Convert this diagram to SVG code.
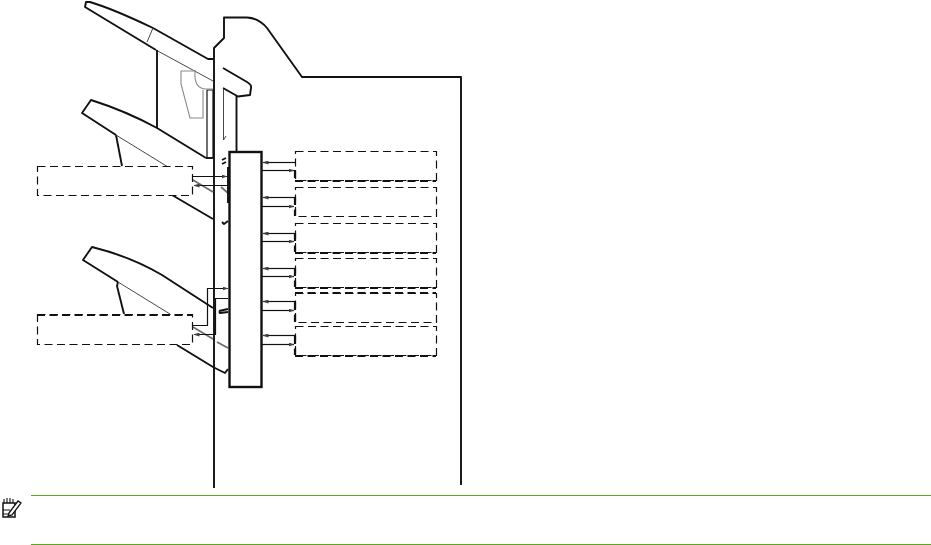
<svg xmlns="http://www.w3.org/2000/svg" width="931" height="545" viewBox="0 0 931 545">
<style>
.l{fill:none;stroke:#111;stroke-width:1.9;stroke-linejoin:round}
.t{fill:none;stroke:#333;stroke-width:.9}
.g{fill:none;stroke:#8a8a8a;stroke-width:1.1}
.gg{fill:none;stroke:#6d6e71;stroke-width:1.8}
.c{fill:none;stroke:#111;stroke-width:1.2}
.d{fill:#fff;stroke:#111;stroke-width:1.2;stroke-dasharray:8 4.500}
.dk{fill:none;stroke:#111;stroke-width:2.200;stroke-dasharray:8 4.500}
.rule{stroke:#5aa81e;stroke-width:1.200}
</style>
<defs>
<marker id="a" markerWidth="6" markerHeight="4" refX="5.5" refY="2" orient="auto" markerUnits="userSpaceOnUse"><path d="M0 0L6 2L0 4Z" fill="#414042"/></marker>
</defs>
<g id="finisher-outline">
<path class="l" d="M214 488V48L224 38V17.500H247C256 18 262 22 267 28L302 77H461V485"/>
<path class="l" d="M223 68L247 82Q252 85 251 88L250 95L238 96.500L223 88"/>
<path class="t" d="M223.500 88V140L226 136"/>
<path class="l" d="M236.500 96V152"/>
<path class="c" d="M207 90H213M207 90V158M213 90V158"/>
</g>
<g id="tray-1">
<path class="l" d="M213 59L208 59L153 28C130 17 110 8 90 2L86 2L85 7L156 50"/>
<path class="t" d="M156 50L213 81"/>
<path class="t" d="M153 28L147 42"/>
<path class="l" d="M157 50V128"/>
<path class="g" d="M196 71H181V84L190 118H203V90M195 72Q194 88 205 89H213"/>
</g>
<g id="tray-2">
<path class="l" d="M206 158L157 128C135 116 110 106 91 100L82 113L116 135"/>
<path class="l" d="M206 158H213"/>
<path class="l" d="M116 135L122 166"/>
<path class="t" d="M116 135L168 167"/>
<path class="l" d="M172 195L213 219"/>
<path class="gg" d="M193 180L213 192M221 187L228 193"/>
<path class="l" d="M222 160L226 158M222 164L226 162M222 222L224 224L228 221"/>
</g>
<g id="tray-3">
<path class="l" d="M213 308L162 275C140 262 112 252 92 247L83 260L118 282"/>
<path class="l" d="M118 282L117 286L124 314"/>
<path class="t" d="M118 282L170 314"/>
<path class="l" d="M177 345L213 367L225 373L228 369"/>
<path class="gg" d="M193 327L213 339M217 342L228 348"/>
<path class="l" d="M219 311L228 309M219 311L220 313L228 312"/>
</g>
<g id="connectors">
<path class="c" d="M193 176.500H227" marker-end="url(#a)"/>
<path class="c" d="M228 185.500H194" marker-end="url(#a)"/>
<path class="c" d="M193 325.500H207.500V288.500H228" marker-end="url(#a)"/>
<path class="c" d="M228 298.500H215.500V334.500H194" marker-end="url(#a)"/>
<path class="c" d="M295 162.500H263" marker-end="url(#a)"/>
<path class="c" d="M262 170.500H294" marker-end="url(#a)"/>
<path class="c" d="M295 197.500H263" marker-end="url(#a)"/>
<path class="c" d="M262 206.500H294" marker-end="url(#a)"/>
<path class="c" d="M295 233.500H263" marker-end="url(#a)"/>
<path class="c" d="M262 241.500H294" marker-end="url(#a)"/>
<path class="c" d="M295 268.500H263" marker-end="url(#a)"/>
<path class="c" d="M262 276.500H294" marker-end="url(#a)"/>
<path class="c" d="M295 301.500H263" marker-end="url(#a)"/>
<path class="c" d="M262 310.500H294" marker-end="url(#a)"/>
<path class="c" d="M295 335.500H263" marker-end="url(#a)"/>
<path class="c" d="M262 344.500H294" marker-end="url(#a)"/>
</g>
<g id="controller"><rect x="229.500" y="152" width="32" height="235" fill="#fff" stroke="#111" stroke-width="2.400"/><path class="l" stroke-width="2" d="M228 167V203"/></g>
<g id="label-left-1"><rect class="d" x="37.500" y="166.500" width="155" height="29"/></g>
<g id="label-left-2"><rect class="d" x="37.500" y="314.500" width="155" height="30"/><path class="dk" d="M37 315H193"/></g>
<g id="label-right-1"><rect class="d" x="295.500" y="151.500" width="141" height="29"/><path class="dk" d="M295 181H436M295 170V180"/></g>
<g id="label-right-2"><rect class="d" x="295.500" y="187.500" width="141" height="29"/><path class="dk" d="M295 197V216"/></g>
<g id="label-right-3"><rect class="d" x="295.500" y="223.500" width="141" height="29"/><path class="dk" d="M295 253H436M295 233V252"/></g>
<g id="label-right-4"><rect class="d" x="295.500" y="258.500" width="141" height="29"/><path class="dk" d="M295 288H436M295 268V287"/></g>
<g id="label-right-5"><rect class="d" x="295.500" y="293.500" width="141" height="29"/><path class="dk" d="M295 293H436M295 302V322"/></g>
<g id="label-right-6"><rect class="d" x="295.500" y="326.500" width="141" height="29"/><path class="dk" d="M295 356H436M295 336V355"/></g>
<g id="note">
<path class="rule" d="M31 495.500H931M31 544.500H931"/>
<path d="M3 503H15V517H3Z" fill="none" stroke="#111" stroke-width="1.500"/>
<path d="M3 510H10M3 514H9" stroke="#111" stroke-width="1"/>
<path d="M9 513L18 501L21 503L12 515L8 516Z" fill="#fff" stroke="#111" stroke-width="1.300"/>
<path d="M4 499V503M7 498V503M10 498V503M13 499V503" stroke="#111" stroke-width="1.100"/>
</g>
</svg>
